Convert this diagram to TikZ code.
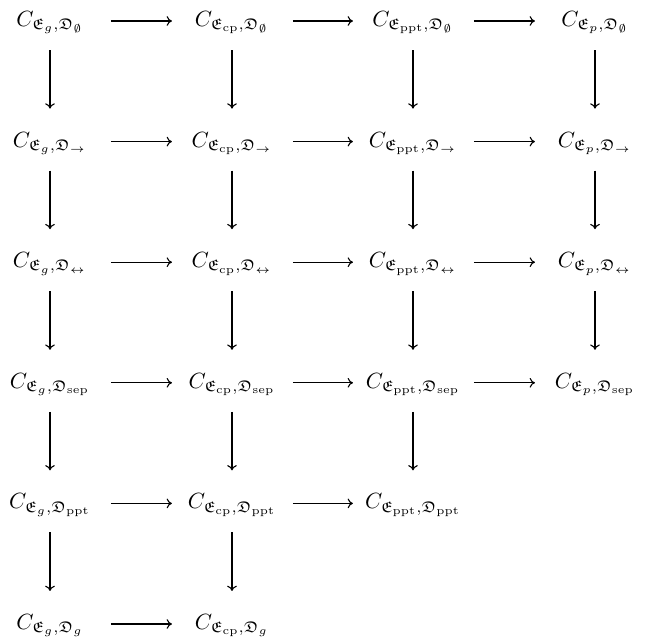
\documentclass[tikz,border=0pt]{standalone}
\usepackage{amsmath,amssymb}
\usetikzlibrary{arrows.meta}
\tikzset{
  lab/.style={anchor=base,inner sep=0pt},
  arr/.style={-{Computer Modern Rightarrow[length=2.4pt,width=4.4pt]},line width=0.5pt},
}
\newcommand{\CC}[2]{$C_{\mathfrak{E}_{#1},\mathfrak{D}_{#2}}$}
\begin{document}
\begin{tikzpicture}[x=0.4545pt,y=-0.4545pt]
\useasboundingbox (0,0) rectangle (646,644);
% columns x: 50,232,413,595 ; baselines: 26.5 + k*120.6
\node[lab] (a1) at (50,26.5) {\CC{g}{\emptyset}};
\node[lab] (b1) at (232,26.5) {\CC{\mathrm{cp}}{\emptyset}};
\node[lab] (c1) at (413,26.5) {\CC{\mathrm{ppt}}{\emptyset}};
\node[lab] (d1) at (595,26.5) {\CC{p}{\emptyset}};
\node[lab] (a2) at (50,147.1) {\CC{g}{\to}};
\node[lab] (b2) at (232,147.1) {\CC{\mathrm{cp}}{\to}};
\node[lab] (c2) at (413,147.1) {\CC{\mathrm{ppt}}{\to}};
\node[lab] (d2) at (595,147.1) {\CC{p}{\to}};
\node[lab] (a3) at (50,267.7) {\CC{g}{\leftrightarrow}};
\node[lab] (b3) at (232,267.7) {\CC{\mathrm{cp}}{\leftrightarrow}};
\node[lab] (c3) at (413,267.7) {\CC{\mathrm{ppt}}{\leftrightarrow}};
\node[lab] (d3) at (595,267.7) {\CC{p}{\leftrightarrow}};
\node[lab] (a4) at (50,388.3) {\CC{g}{\mathrm{sep}}};
\node[lab] (b4) at (232,388.3) {\CC{\mathrm{cp}}{\mathrm{sep}}};
\node[lab] (c4) at (413,388.3) {\CC{\mathrm{ppt}}{\mathrm{sep}}};
\node[lab] (d4) at (595,388.3) {\CC{p}{\mathrm{sep}}};
\node[lab] (a5) at (50,508.9) {\CC{g}{\mathrm{ppt}}};
\node[lab] (b5) at (232,508.9) {\CC{\mathrm{cp}}{\mathrm{ppt}}};
\node[lab] (c5) at (413,508.9) {\CC{\mathrm{ppt}}{\mathrm{ppt}}};
\node[lab] (a6) at (50,629.5) {\CC{g}{g}};
\node[lab] (b6) at (232,629.5) {\CC{\mathrm{cp}}{g}};
% horizontal arrows
\foreach \r in {1,2,3,4}{
  \draw[arr] ([xshift=27.7pt,yshift=2.5pt]a\r.base) -- ([xshift=-27.3pt,yshift=2.5pt]b\r.base);
  \draw[arr] ([xshift=27.7pt,yshift=2.5pt]b\r.base) -- ([xshift=-27.3pt,yshift=2.5pt]c\r.base);
  \draw[arr] ([xshift=27.7pt,yshift=2.5pt]c\r.base) -- ([xshift=-27.3pt,yshift=2.5pt]d\r.base);
}
\draw[arr] ([xshift=27.7pt,yshift=2.5pt]a5.base) -- ([xshift=-27.3pt,yshift=2.5pt]b5.base);
\draw[arr] ([xshift=27.7pt,yshift=2.5pt]b5.base) -- ([xshift=-27.3pt,yshift=2.5pt]c5.base);
\draw[arr] ([xshift=27.7pt,yshift=2.5pt]a6.base) -- ([xshift=-27.3pt,yshift=2.5pt]b6.base);
% vertical arrows
\foreach \u/\v in {a1/a2,a2/a3,a3/a4,a4/a5,a5/a6,
                   b1/b2,b2/b3,b3/b4,b4/b5,b5/b6,
                   c1/c2,c2/c3,c3/c4,c4/c5,
                   d1/d2,d2/d3,d3/d4}{
  \draw[arr] ([yshift=-10.7pt]\u.base) -- ([yshift=17.5pt]\v.base);
}
\end{tikzpicture}
\end{document}
